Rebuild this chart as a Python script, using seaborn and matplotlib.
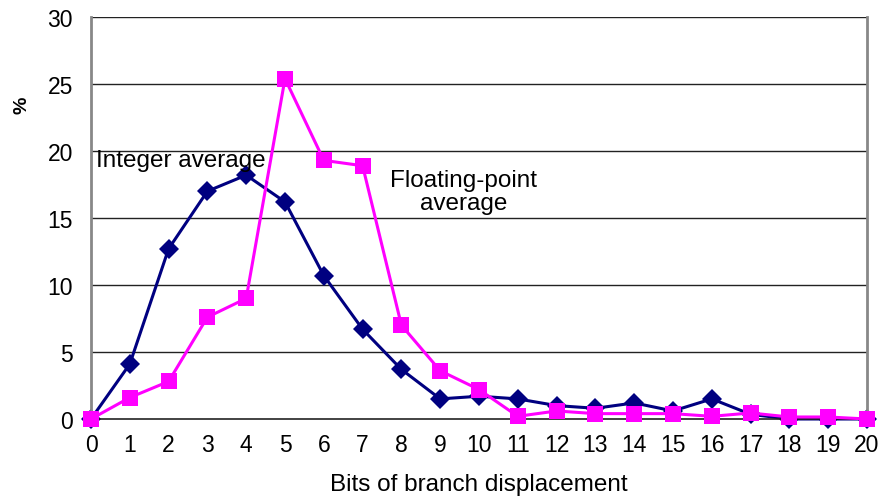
import matplotlib
matplotlib.use("Agg")
import matplotlib.pyplot as plt
import seaborn as sns
import pandas as pd

bits = list(range(0, 21))
integer_avg = [0, 4.1, 12.7, 17.0, 18.2, 16.2, 10.7, 6.7, 3.7, 1.5, 1.7, 1.5, 1.0, 0.8, 1.2, 0.6, 1.5, 0.35, 0, 0, 0]
fp_avg = [0, 1.6, 2.8, 7.6, 9.0, 25.4, 19.3, 18.9, 7.0, 3.6, 2.2, 0.2, 0.6, 0.4, 0.4, 0.4, 0.2, 0.45, 0.15, 0.15, 0]
series_names = ["Integer average", "Floating-point average"]
ytick_vals = [0, 5, 10, 15, 20, 25, 30]

sns.set_style("white")
plt.rcParams['font.family'] = ['Liberation Sans', 'DejaVu Sans']
plt.rcParams['text.color'] = 'black'
plt.rcParams['axes.labelcolor'] = 'black'

df = pd.DataFrame({
    "bits": bits * 2,
    "value": integer_avg + fp_avg,
    "series": [series_names[0]] * len(bits) + [series_names[1]] * len(bits),
})

fig = plt.figure(figsize=(8.82, 5.02), dpi=100)
ax = fig.add_axes([91 / 882, 82 / 502, (867 - 91) / 882, (420 - 18) / 502])

# gridlines
for v in ytick_vals[1:]:
    ax.axhline(v, color="#222222", lw=1.0, zorder=0)

sns.lineplot(data=df, x="bits", y="value", hue="series", style="series",
             palette={series_names[0]: "#000080", series_names[1]: "#FF00FF"},
             markers={series_names[0]: "D", series_names[1]: "s"},
             dashes=False, linewidth=2.2, markeredgewidth=0,
             ax=ax, legend=False, clip_on=False)
lines = ax.get_lines()
for ln in lines:
    if ln.get_marker() == "D":
        ln.set_markersize(10)
    elif ln.get_marker() == "s":
        ln.set_markersize(11.5)
        ln.set_zorder(3)

ax.set_xlim(0, 20)
ax.set_ylim(0, 30)
ax.set_xticks(bits)
ax.set_yticks(ytick_vals)
ax.tick_params(axis="both", labelsize=16.5, direction="out", length=4, width=1,
               colors="black", labelcolor="black")
ax.tick_params(axis="x", pad=6)
ax.tick_params(axis="y", pad=9)
for side in ["left", "right"]:
    ax.spines[side].set_color("#888888")
    ax.spines[side].set_linewidth(2)
ax.spines["top"].set_visible(False)
ax.spines["bottom"].set_color("#222222")
ax.spines["bottom"].set_linewidth(1.2)

ax.set_xlabel("Bits of branch displacement", fontsize=17.5, labelpad=12, color="black")
ax.set_ylabel("")

ax.text(0.13, 19.3, "Integer average", fontsize=17.5, ha="left", va="center", color="black")
ax.text(9.6, 17.0, "Floating-point\naverage", fontsize=17.5, ha="center", va="center",
        linespacing=1.05, color="black")

fig.text(22 / 882, 1 - 105 / 502, "%", rotation=90, fontsize=14, fontweight="bold",
         ha="center", va="center", color="black")

fig.savefig("out.png", dpi=100)
